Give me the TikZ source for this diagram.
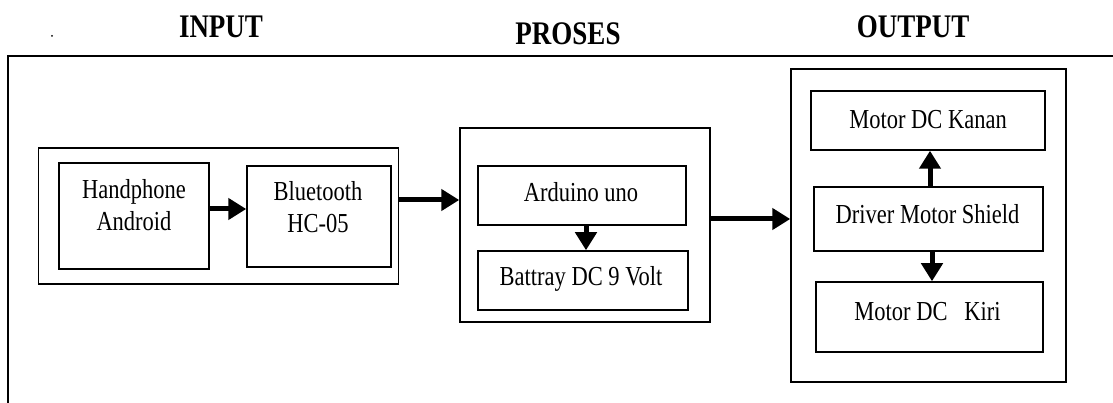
\documentclass[tikz,border=0pt]{standalone}
\usepackage{fontspec}
\setmainfont{Liberation Serif}
\usetikzlibrary{arrows.meta}
\newcommand\stretchtxt[1]{\scalebox{1}[1.22]{#1}}
\begin{document}
\begin{tikzpicture}[x=1pt,y=-1pt,
  box/.style={draw=black, line width=1.5pt, rectangle, inner sep=0pt},
  lbl/.style={inner sep=0pt, anchor=base, font=\fontsize{22.5}{26.2}\selectfont},
  ttl/.style={inner sep=0pt, anchor=base, font=\bfseries\fontsize{27}{30}\selectfont},
  arr/.style={line width=5pt, -{Triangle[length=18pt,width=21pt]}},
  frameline/.style={line width=1.5pt}
]
\useasboundingbox (0,0) rectangle (1113,403);

% titles
\node[ttl] (tin) at (221,37.5) {\stretchtxt{INPUT}};
\node[ttl] (tpr) at (568,45) {\stretchtxt{PROSES}};
\node[ttl] (tout) at (913,37.5) {\stretchtxt{OUTPUT}};
\fill (52,36) circle (1pt);

% outer frame
\coordinate (fr1) at (1113,56);
\coordinate (fr2) at (8,56);
\coordinate (fr3) at (8,403);
\draw[frameline] (fr1) -- (fr2) -- (fr3);

% group boxes
\node[box, minimum width=360pt, minimum height=136pt] (inbox) at (218.6,216) {};
\node[box, minimum width=250pt, minimum height=194pt] (prbox) at (585,225) {};
\node[box, minimum width=275pt, minimum height=313pt] (outbox) at (928.5,225.5) {};

% input
\node[box, minimum width=150pt, minimum height=106pt] (hp) at (134,216) {};
\node[lbl] (hpt) at (134,199) {\stretchtxt{\begin{tabular}[t]{@{}c@{}}Handphone\\Android\end{tabular}}};
\node[box, minimum width=144pt, minimum height=101pt] (bt) at (319,216.5) {};
\node[lbl] (btt) at (318,201) {\stretchtxt{\begin{tabular}[t]{@{}c@{}}Bluetooth\\HC-05\end{tabular}}};

% proses
\node[box, minimum width=208pt, minimum height=59pt] (ard) at (582,195.5) {};
\node[lbl] (ardt) at (581,201.5) {\stretchtxt{Arduino uno}};
\node[box, minimum width=210pt, minimum height=59pt] (bat) at (583,280.5) {};
\node[lbl] (batt) at (581,285) {\stretchtxt{Battray DC 9 Volt}};

% output
\node[box, minimum width=234pt, minimum height=59pt] (kanan) at (928,120.5) {};
\node[lbl] (kanant) at (928,128.5) {\stretchtxt{Motor DC Kanan}};
\node[box, minimum width=229pt, minimum height=64pt] (drv) at (928.5,219) {};
\node[lbl] (drvt) at (927.5,223.5) {\stretchtxt{Driver Motor Shield}};
\node[box, minimum width=227pt, minimum height=70pt] (kiri) at (929.5,317) {};
\node[lbl] (kirit) at (927.5,320) {\stretchtxt{Motor DC\ \ \ Kiri}};

% arrows
\draw[arr] (hp.east |- 0,209) -- (bt.west |- 0,209);
\draw[arr] (inbox.east |- 0,200) -- (prbox.west |- 0,200);
\draw[arr] (ard.south -| 586,0) -- (bat.north -| 586,0);
\draw[arr] (prbox.east |- 0,219) -- (outbox.west |- 0,219);
\draw[arr] (drv.north -| 930,0) -- (kanan.south -| 930,0);
\draw[arr] (drv.south -| 932,0) -- (kiri.north -| 932,0);
\end{tikzpicture}
\end{document}
